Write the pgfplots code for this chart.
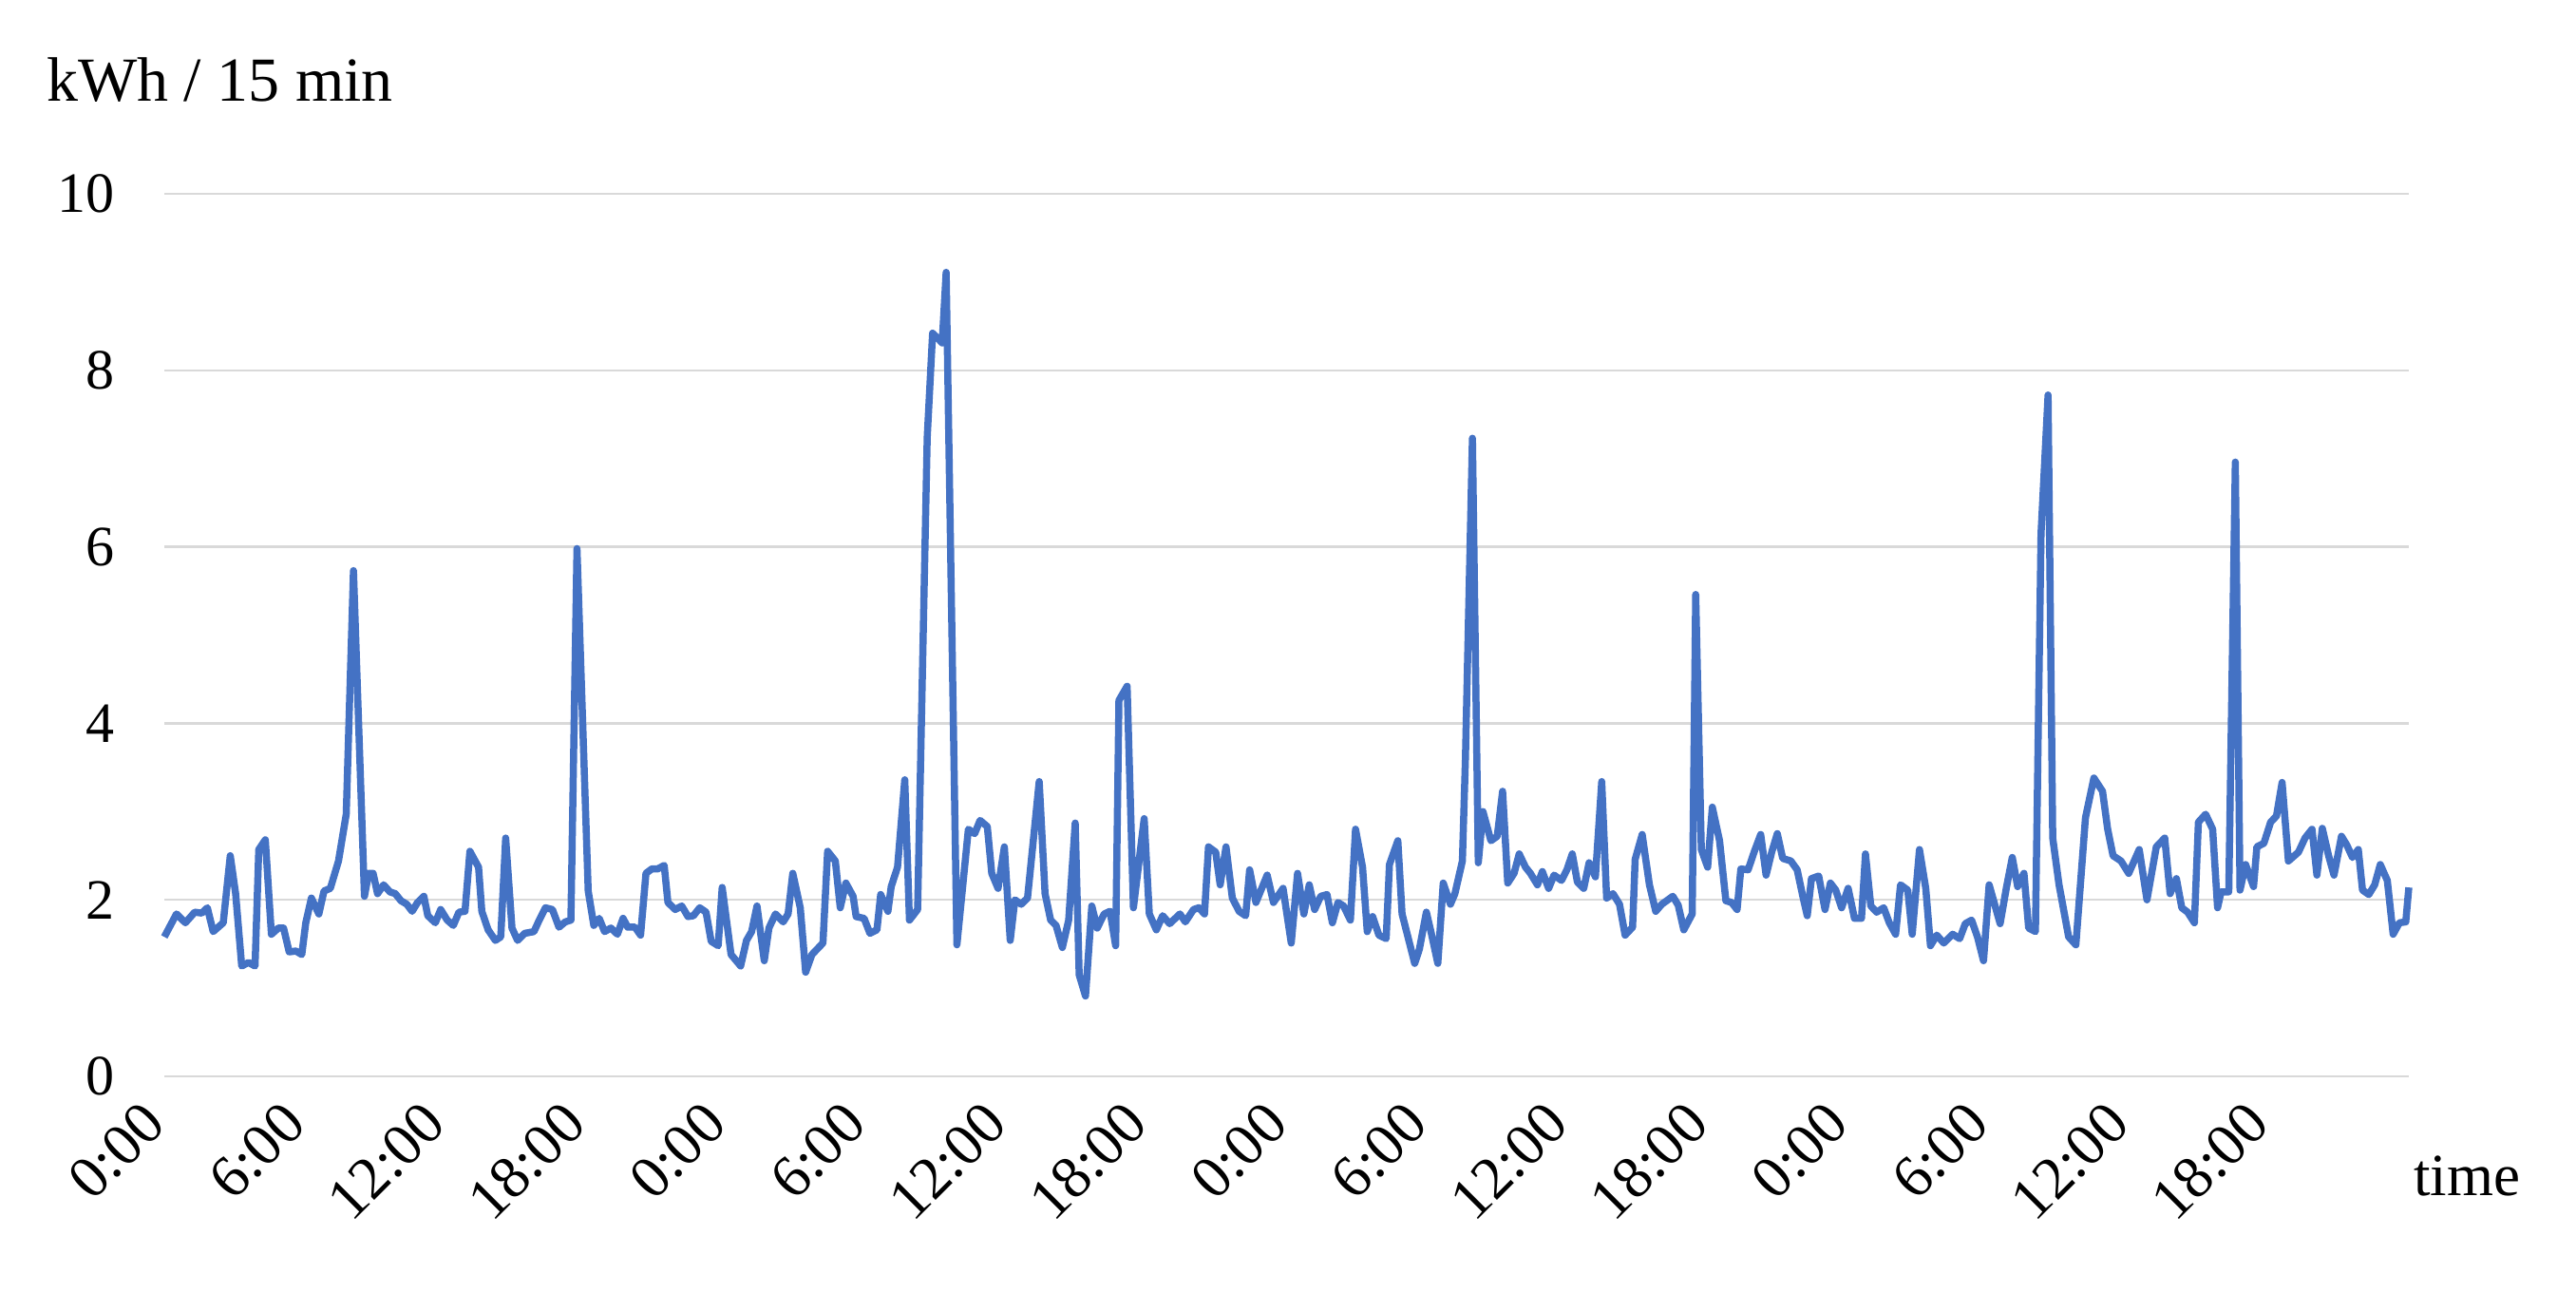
\documentclass[border=0pt]{standalone}
\usepackage{fontspec}
\setmainfont{Liberation Serif}
\usepackage{pgfplots}
\pgfplotsset{compat=1.18}
\definecolor{exblue}{HTML}{4472C4}
\definecolor{gridgray}{HTML}{D9D9D9}
\begin{document}
\begin{tikzpicture}[font=\fontsize{12}{14.4}\selectfont]
\useasboundingbox (0,0) rectangle (542.4pt,272pt);
\begin{axis}[
  at={(34.6pt,45.4pt)}, anchor=south west,
  scale only axis, width=472.6pt, height=185.8pt,
  xmin=0, xmax=96, ymin=0, ymax=10,
  axis line style={draw=none},
  major tick length=0pt,
  ymajorgrids, grid style={gridgray, line width=0.45pt},
  ytick={0,2,4,6,8,10},
  xtick={0,6,...,90},
  xticklabels={0:00,6:00,12:00,18:00,0:00,6:00,12:00,18:00,0:00,6:00,12:00,18:00,0:00,6:00,12:00,18:00},
  /pgf/number format/assume math mode=true,
  yticklabel style={font=\fontsize{12}{14.4}\selectfont, xshift=-7pt},
  xticklabel style={font=\fontsize{12.6}{15}\selectfont, rotate=45, anchor=east, xshift=-3.5pt, yshift=-4pt},
  clip=false,
]
\addplot[exblue, line width=1.5pt, line join=round, no markers] coordinates {
(0.0,1.58) (0.52,1.84) (0.9,1.74) (1.3,1.86) (1.6,1.85) (1.84,1.91) (2.09,1.64) (2.52,1.74) (2.82,2.50) (3.05,2.07)
(3.31,1.25) (3.6,1.29) (3.88,1.25) (4.04,2.57) (4.32,2.68) (4.58,1.61) (4.88,1.68) (5.1,1.68) (5.34,1.41) (5.63,1.42)
(5.88,1.38) (6.05,1.74) (6.29,2.02) (6.61,1.84) (6.83,2.1) (7.1,2.13) (7.45,2.44) (7.78,2.97) (8.09,5.73) (8.56,2.04)
(8.74,2.30) (8.93,2.30) (9.12,2.07) (9.38,2.17) (9.65,2.09) (9.88,2.07) (10.12,1.99) (10.37,1.95) (10.6,1.87) (10.83,1.97)
(11.1,2.04) (11.27,1.82) (11.59,1.74) (11.82,1.89) (12.1,1.77) (12.36,1.71) (12.6,1.86) (12.86,1.87) (13.07,2.55) (13.44,2.37)
(13.58,1.87) (13.85,1.66) (14.16,1.54) (14.39,1.58) (14.6,2.70) (14.87,1.68) (15.11,1.54) (15.41,1.62) (15.81,1.64) (16.0,1.75)
(16.3,1.91) (16.6,1.89) (16.88,1.69) (17.15,1.75) (17.39,1.77) (17.65,5.98) (18.13,2.1) (18.37,1.71) (18.6,1.79) (18.83,1.64)
(19.1,1.68) (19.38,1.61) (19.62,1.79) (19.82,1.69) (20.13,1.69) (20.37,1.60) (20.6,2.30) (20.85,2.35) (21.1,2.35) (21.38,2.39)
(21.54,1.97) (21.85,1.89) (22.13,1.93) (22.4,1.81) (22.63,1.82) (22.9,1.91) (23.17,1.86) (23.39,1.53) (23.69,1.48) (23.86,2.14)
(24.24,1.38) (24.65,1.25) (24.9,1.54) (25.12,1.64) (25.35,1.93) (25.66,1.31) (25.86,1.68) (26.14,1.84) (26.47,1.75) (26.68,1.84)
(26.88,2.30) (27.2,1.91) (27.43,1.18) (27.7,1.38) (28.17,1.51) (28.37,2.55) (28.7,2.44) (28.91,1.91) (29.15,2.19) (29.46,2.04)
(29.59,1.81) (29.93,1.79) (30.18,1.62) (30.48,1.66) (30.64,2.06) (30.95,1.87) (31.09,2.15) (31.36,2.37) (31.67,3.36) (31.87,1.77)
(32.22,1.89) (32.63,7.24) (32.86,8.42) (33.09,8.36) (33.27,8.31) (33.44,9.11) (33.9,1.49) (34.39,2.80) (34.66,2.75) (34.89,2.90)
(35.2,2.83) (35.39,2.30) (35.66,2.13) (35.93,2.60) (36.18,1.54) (36.38,2.0) (36.65,1.95) (36.92,2.02) (37.42,3.34) (37.67,2.07)
(37.91,1.77) (38.14,1.71) (38.41,1.46) (38.68,1.77) (38.96,2.87) (39.13,1.15) (39.4,0.91) (39.67,1.93) (39.9,1.68) (40.2,1.84)
(40.45,1.87) (40.69,1.48) (40.83,4.26) (41.18,4.42) (41.45,1.91) (41.91,2.92) (42.13,1.84) (42.43,1.66) (42.7,1.82) (43.0,1.73)
(43.44,1.84) (43.67,1.75) (44.02,1.89) (44.25,1.91) (44.49,1.84) (44.66,2.60) (44.97,2.54) (45.16,2.17) (45.41,2.60) (45.68,2.02)
(45.97,1.87) (46.25,1.82) (46.42,2.34) (46.69,1.97) (47.17,2.28) (47.44,1.97) (47.85,2.13) (48.2,1.51) (48.47,2.30) (48.74,1.84)
(48.97,2.17) (49.2,1.89) (49.46,2.04) (49.73,2.06) (49.96,1.74) (50.2,1.97) (50.44,1.93) (50.73,1.77) (50.95,2.80) (51.25,2.37)
(51.45,1.64) (51.68,1.81) (51.95,1.60) (52.26,1.56) (52.4,2.40) (52.76,2.67) (52.94,1.84) (53.48,1.28) (53.68,1.44) (53.98,1.86)
(54.2,1.61) (54.47,1.28) (54.7,2.19) (55.01,1.95) (55.2,2.07) (55.52,2.44) (55.65,3.60) (55.95,7.23) (56.2,2.42) (56.4,3.0)
(56.74,2.67) (57.01,2.72) (57.24,3.23) (57.46,2.19) (57.73,2.30) (57.95,2.52) (58.22,2.37) (58.43,2.30) (58.73,2.17) (58.94,2.32)
(59.21,2.13) (59.44,2.28) (59.76,2.22) (59.99,2.34) (60.22,2.52) (60.44,2.2) (60.71,2.13) (60.94,2.42) (61.21,2.26) (61.48,3.34)
(61.69,2.02) (61.96,2.07) (62.24,1.95) (62.48,1.60) (62.8,1.69) (62.91,2.46) (63.21,2.74) (63.52,2.17) (63.79,1.87) (64.05,1.95)
(64.52,2.04) (64.75,1.94) (64.99,1.66) (65.35,1.84) (65.5,5.46) (65.74,2.57) (66.01,2.37) (66.21,3.05) (66.52,2.67) (66.79,1.99)
(67.03,1.97) (67.27,1.89) (67.43,2.35) (67.74,2.34) (68.01,2.55) (68.28,2.74) (68.51,2.28) (68.75,2.54) (68.99,2.75) (69.22,2.47)
(69.57,2.44) (69.84,2.34) (70.08,2.04) (70.27,1.82) (70.45,2.24) (70.76,2.27) (71.03,1.89) (71.26,2.19) (71.49,2.11) (71.74,1.91)
(72.02,2.13) (72.29,1.79) (72.59,1.79) (72.76,2.52) (72.99,1.93) (73.24,1.86) (73.54,1.91) (73.78,1.74) (74.05,1.61) (74.26,2.17)
(74.57,2.11) (74.76,1.61) (75.07,2.57) (75.34,2.13) (75.54,1.48) (75.81,1.60) (76.11,1.51) (76.49,1.61) (76.79,1.56) (77.03,1.73)
(77.3,1.77) (77.55,1.58) (77.81,1.31) (78.05,2.17) (78.52,1.73) (78.79,2.14) (79.04,2.48) (79.27,2.15) (79.54,2.30) (79.74,1.68)
(80.03,1.64) (80.27,6.15) (80.57,7.72) (80.77,2.70) (81.04,2.17) (81.45,1.58) (81.76,1.49) (82.17,2.93) (82.53,3.38) (82.9,3.23)
(83.12,2.80) (83.35,2.50) (83.69,2.44) (84.02,2.30) (84.47,2.57) (84.8,2.0) (85.2,2.60) (85.56,2.70) (85.79,2.07) (86.06,2.24)
(86.29,1.91) (86.54,1.86) (86.83,1.74) (87.0,2.88) (87.31,2.97) (87.61,2.80) (87.82,1.91) (87.97,2.09) (88.3,2.09) (88.58,6.96)
(88.78,2.11) (89.02,2.40) (89.36,2.15) (89.5,2.60) (89.8,2.64) (90.09,2.88) (90.34,2.95) (90.58,3.33) (90.85,2.44) (91.28,2.54)
(91.56,2.70) (91.86,2.80) (92.07,2.28) (92.3,2.81) (92.57,2.50) (92.8,2.28) (93.12,2.72) (93.35,2.62) (93.59,2.48) (93.84,2.57)
(94.02,2.11) (94.29,2.06) (94.54,2.17) (94.78,2.40) (95.08,2.22) (95.33,1.61) (95.6,1.74) (95.87,1.75) (96.0,2.14)
};
\end{axis}
\node[anchor=base west, inner sep=0pt, font=\fontsize{13.2}{16}\selectfont] at (9.6pt,250.6pt) {kWh / 15 min};
\node[anchor=base west, inner sep=0pt, font=\fontsize{12.6}{15}\selectfont] at (508pt,20.2pt) {time};
\end{tikzpicture}
\end{document}
